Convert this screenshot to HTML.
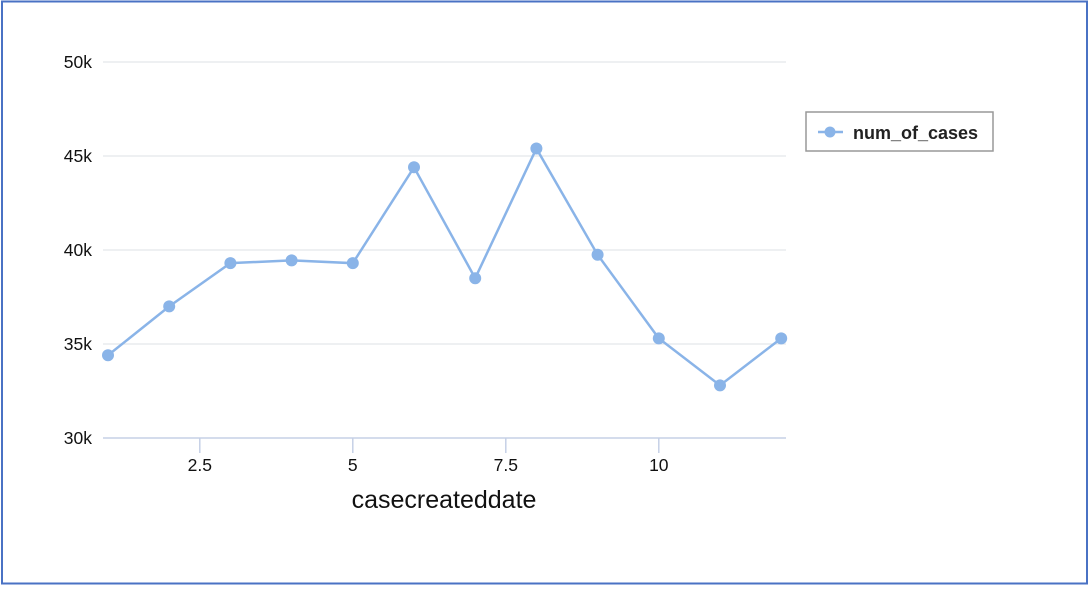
<!DOCTYPE html>
<html><head><meta charset="utf-8"><style>
html,body{margin:0;padding:0;background:#fff;}
body{width:1092px;height:586px;overflow:hidden;font-family:"Liberation Sans",sans-serif;}
</style></head><body>
<svg width="1092" height="586" xmlns="http://www.w3.org/2000/svg">
<rect x="2" y="1.5" width="1085" height="582" fill="#fff" stroke="#4a72c4" stroke-width="2"/>
<g id="grid"></g>
<g id="axes"></g>
<g id="series"></g>
<text x="444" y="508" font-size="25" text-anchor="middle" fill="#111">casecreateddate</text>
<g>
<rect x="806" y="112" width="187" height="39" fill="#fff" stroke="#999" stroke-width="1.5"/>
<line x1="818" y1="132" x2="843" y2="132" stroke="#8ab4e8" stroke-width="2.5"/>
<circle cx="830" cy="132" r="5.5" fill="#8ab4e8"/>
<text x="853" y="139" font-size="18" font-weight="bold" fill="#222">num_of_cases</text>
</g>
</svg>
<script>
const months=[1,2,3,4,5,6,7,8,9,10,11,12];
const cases=[34400,37000,39300,39450,39300,44400,38500,45400,39750,35300,32800,35300];
const yTicks=[30000,35000,40000,45000,50000];
const yTickLabels=["30k","35k","40k","45k","50k"];
const xTicks=[2.5,5,7.5,10];
const xTickLabels=["2.5","5","7.5","10"];
const NS="http://www.w3.org/2000/svg";
const x=v=>108+(v-1)*61.2;
const y=v=>438-(v-30000)*(376/20000);
function mk(t,a,p){const e=document.createElementNS(NS,t);for(const k in a)e.setAttribute(k,a[k]);p.appendChild(e);return e;}
const grid=document.getElementById('grid'),axes=document.getElementById('axes'),ser=document.getElementById('series');
yTicks.forEach((t,i)=>{
  if(i>0){const g=mk('line',{x1:103,x2:786,y1:y(t),y2:y(t),stroke:'#e3e6ea','stroke-width':1.2},grid);
  
  }
  const l=mk('text',{x:92,y:y(t)+6,'font-size':17.5,'text-anchor':'end',fill:'#111'},axes);l.textContent=yTickLabels[i];
  
  
});
const ax=mk('line',{x1:103,x2:786,y1:438,y2:438,stroke:'#c5d0e6','stroke-width':1.5},axes);


xTicks.forEach((t,i)=>{
  const tk=mk('line',{x1:x(t),x2:x(t),y1:438,y2:453,stroke:'#c5d0e6','stroke-width':1.5},axes);
  
  
  const l=mk('text',{x:x(t),y:471,'font-size':17.5,'text-anchor':'middle',fill:'#111'},axes);l.textContent=xTickLabels[i];
  
  
});
const pl=mk('polyline',{points:months.map((m,i)=>x(m)+','+y(cases[i])).join(' '),fill:'none',stroke:'#8ab4e8','stroke-width':2.5},ser);


months.forEach((m,i)=>{
  const c=mk('circle',{cx:x(m),cy:y(cases[i]),r:6,fill:'#8ab4e8'},ser);
  
  
});
</script>
</body></html>
